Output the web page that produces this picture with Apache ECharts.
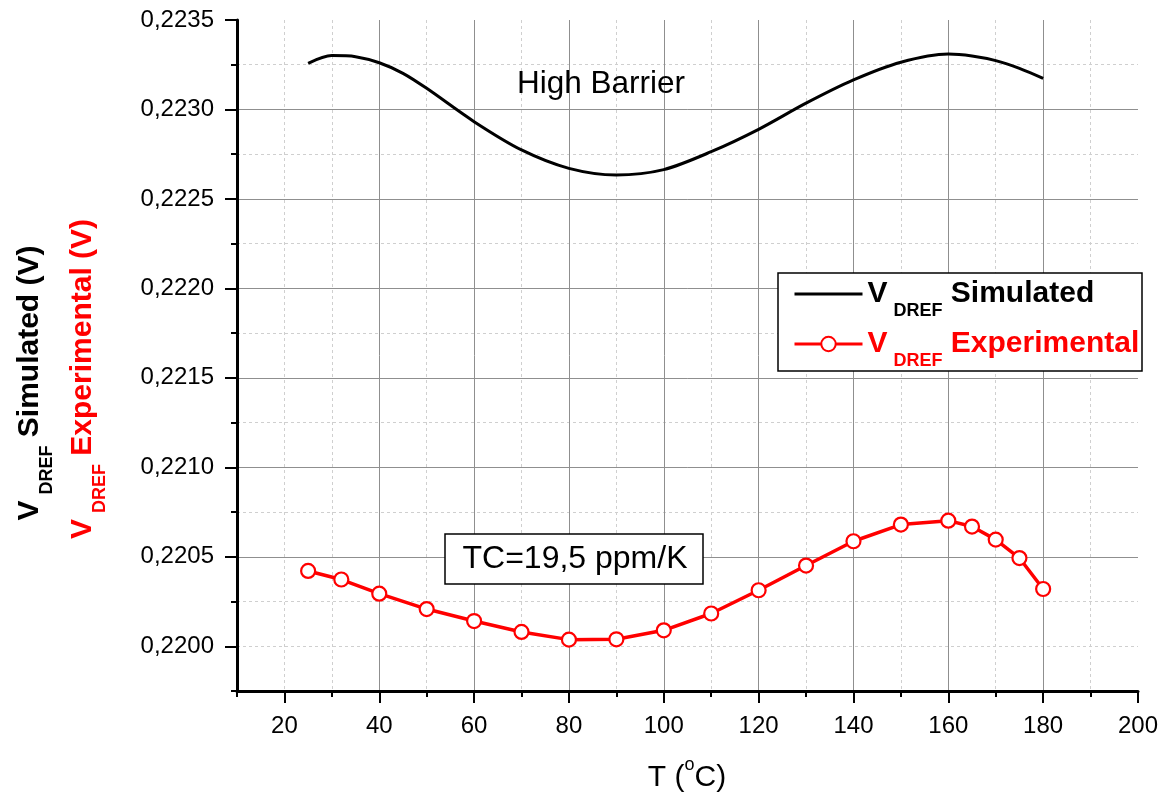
<!DOCTYPE html>
<html>
<head>
<meta charset="utf-8">
<script src="https://cdn.jsdelivr.net/npm/echarts@6/dist/echarts.min.js"></script>
<style>
  html, body { margin: 0; padding: 0; background: #fff; }
  #chart { width: 1161px; height: 795px; }
</style>
</head>
<body>
<div id="chart"></div>
<script>
const FONT = '"Liberation Sans", Arial, Helvetica, sans-serif';

// Simulated reference voltage vs temperature
const simT = [25, 30, 35, 40, 45, 50, 60, 70, 80, 90, 100, 110, 120, 130, 140, 150, 160, 165, 170, 175, 180];
const simV = [0.223258, 0.223301, 0.223295, 0.223261, 0.223202, 0.223118, 0.222932, 0.222774, 0.222671,
              0.222634, 0.222664, 0.222764, 0.222889, 0.223035, 0.223165, 0.223264, 0.223310, 0.223299,
              0.223273, 0.223230, 0.223174];

// Measured reference voltage vs temperature
const expT = [25, 32, 40, 50, 60, 70, 80, 90, 100, 110, 120, 130, 140, 150, 160, 165, 170, 175, 180];
const expV = [0.220421, 0.220373, 0.220294, 0.220208, 0.220141, 0.220080, 0.220037, 0.220039, 0.220089,
              0.220183, 0.220313, 0.220451, 0.220587, 0.220680, 0.220702, 0.220669, 0.220596, 0.220493,
              0.220320];

// Axis ranges and labelled ticks
const xRange = [10, 200];
const xMajor = [20, 40, 60, 80, 100, 120, 140, 160, 180, 200];
const yRange = [0.21975, 0.2235];
const yMajor = [0.2200, 0.2205, 0.2210, 0.2215, 0.2220, 0.2225, 0.2230, 0.2235];

const seriesNames = ['Simulated', 'Experimental'];
const annotations = { barrier: 'High Barrier', tc: 'TC=19,5 ppm/K' };

const RED = '#ff0000';
const MAJOR_GRID = '#8f8f8f';
const MINOR_GRID = '#cfcfcf';

const zip = (xs, ys) => xs.map((x, i) => [x, ys[i]]);
const yFmt = v => v.toFixed(4).replace('.', ',');

// rich-text pieces for "V_DREF ..." (subscript pushed down by top padding)
function vdrefRich(color, key) {
  return {
    v: { [key]: color, fontSize: 30, fontWeight: 'bold', fontFamily: FONT, padding: [0, 6, 0, 0] },
    s: { [key]: color, fontSize: 18, fontWeight: 'bold', fontFamily: FONT, padding: [34, 0, 0, 0] },
    t: { [key]: color, fontSize: 30, fontWeight: 'bold', fontFamily: FONT }
  };
}

const chart = echarts.init(document.getElementById('chart'), null, { renderer: 'canvas' });

const option = {
  backgroundColor: '#ffffff',
  animation: false,
  grid: { left: 237, right: 22, top: 20, bottom: 104, containLabel: false },
  xAxis: [
    {
      type: 'value', min: xRange[0], max: xRange[1], interval: 10, position: 'bottom',
      axisLine: { show: true, lineStyle: { color: '#000', width: 3 } },
      axisTick: { show: true, inside: false, length: 12, customValues: xMajor, lineStyle: { color: '#000', width: 2 } },
      axisLabel: { show: true, customValues: xMajor, margin: 23, fontSize: 24, color: '#000', fontFamily: FONT },
      splitLine: { show: true, showMinLine: false, showMaxLine: false, lineStyle: { color: MAJOR_GRID, width: 1 } },
      z: 3
    },
    {
      type: 'value', min: xRange[0], max: xRange[1], interval: 10, position: 'bottom',
      axisLine: { show: false },
      axisTick: { show: true, inside: false, length: 6, lineStyle: { color: '#000', width: 2 } },
      axisLabel: { show: false },
      splitLine: { show: true, showMinLine: false, showMaxLine: false, lineStyle: { color: MINOR_GRID, width: 1, type: [3, 3] } },
      z: 2
    }
  ],
  yAxis: [
    {
      type: 'value', min: yRange[0], max: yRange[1], interval: 0.00025, position: 'left',
      axisLine: { show: true, lineStyle: { color: '#000', width: 3 } },
      axisTick: { show: true, inside: false, length: 12, customValues: yMajor, lineStyle: { color: '#000', width: 2 } },
      axisLabel: { show: true, customValues: yMajor, margin: 23, fontSize: 24, color: '#000', fontFamily: FONT, formatter: yFmt },
      splitLine: { show: true, showMinLine: false, showMaxLine: false, lineStyle: { color: MAJOR_GRID, width: 1 } },
      z: 3
    },
    {
      type: 'value', min: yRange[0], max: yRange[1], interval: 0.00025, position: 'left',
      axisLine: { show: false },
      axisTick: { show: true, inside: false, length: 6, lineStyle: { color: '#000', width: 2 } },
      axisLabel: { show: false },
      splitLine: { show: true, showMinLine: false, showMaxLine: false, lineStyle: { color: MINOR_GRID, width: 1, type: [3, 3] } },
      z: 2
    }
  ],
  legend: {
    show: true,
    orient: 'vertical',
    left: 793, top: 279,
    padding: 0,
    itemGap: 9,
    itemWidth: 68, itemHeight: 18,
    selectedMode: false,
    z: 6,
    formatter: name => '{v|V}{s|DREF}{t| ' + name + '}',
    data: [
      { name: seriesNames[0], itemStyle: { opacity: 0 },
        lineStyle: { color: '#000', width: 3 },
        textStyle: { color: '#000', rich: vdrefRich('#000', 'color') } },
      { name: seriesNames[1],
        lineStyle: { color: RED, width: 3 },
        itemStyle: { color: '#fff', borderColor: RED, borderWidth: 2 },
        textStyle: { color: RED, rich: vdrefRich(RED, 'color') } }
    ]
  },
  graphic: [
    // legend frame
    { type: 'rect', z: 5, shape: { x: 778, y: 273, width: 364, height: 98 },
      style: { fill: '#fff', stroke: '#000', lineWidth: 1.5 } },
    // TC annotation box
    { type: 'rect', z: 5, shape: { x: 445, y: 534, width: 258, height: 50 },
      style: { fill: '#fff', stroke: '#000', lineWidth: 1.5 } },
    { type: 'text', z: 6, x: 575, y: 559,
      style: { text: annotations.tc, fill: '#000', font: '32px ' + FONT, align: 'center', verticalAlign: 'middle' } },
    { type: 'text', z: 6, x: 517, y: 84,
      style: { text: annotations.barrier, fill: '#000', font: '31.5px ' + FONT, align: 'left', verticalAlign: 'middle' } },
    // x-axis title
    { type: 'text', z: 6, x: 687, y: 778,
      style: {
        text: '{n|T (}{p|o}{n|C)}', align: 'center', verticalAlign: 'middle',
        rich: {
          n: { fill: '#000', fontSize: 30, fontFamily: FONT },
          p: { fill: '#000', fontSize: 18, fontFamily: FONT, padding: [0, 0, 25, 0] }
        }
      } },
    // y-axis titles
    { type: 'text', z: 6, x: 30, y: 383, rotation: Math.PI / 2,
      style: { text: '{v|V}{s|DREF}{t| Simulated (V)}', align: 'center', verticalAlign: 'middle',
               rich: vdrefRich('#000', 'fill') } },
    { type: 'text', z: 6, x: 83, y: 379, rotation: Math.PI / 2,
      style: { text: '{v|V}{s|DREF}{t| Experimental (V)}', align: 'center', verticalAlign: 'middle',
               rich: vdrefRich(RED, 'fill') } }
  ],
  series: [
    {
      name: seriesNames[0], type: 'line', xAxisIndex: 0, yAxisIndex: 0,
      data: zip(simT, simV),
      smooth: 0.3, symbol: 'none', showSymbol: false,
      lineStyle: { color: '#000', width: 3 }, itemStyle: { color: '#000' },
      z: 4
    },
    {
      name: seriesNames[1], type: 'line', xAxisIndex: 0, yAxisIndex: 0,
      data: zip(expT, expV),
      symbol: 'circle', symbolSize: 14, showAllSymbol: true,
      lineStyle: { color: RED, width: 3.5 },
      itemStyle: { color: '#fff', borderColor: RED, borderWidth: 2.2 },
      z: 4
    }
  ]
};

chart.setOption(option);
</script>
</body>
</html>
